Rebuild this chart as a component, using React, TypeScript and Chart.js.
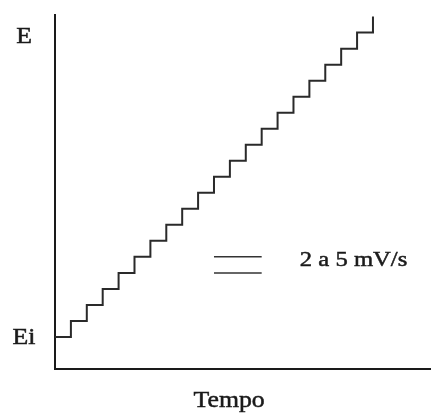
import React, { useEffect, useRef } from "react";
import { Chart, registerables } from "chart.js";

Chart.register(...registerables);

// Staircase potential (one step per time unit)
const stepTimes = [0, 1, 2, 3, 4, 5, 6, 7, 8, 9, 10, 11, 12, 13, 14, 15, 16, 17, 18, 19, 20];
const stepLevels = [0, 1, 2, 3, 4, 5, 6, 7, 8, 9, 10, 11, 12, 13, 14, 15, 16, 17, 18, 19, 20];

// Scan-rate symbol (two parallel strokes) and its label
const rateLineTimes = [10, 13];
const rateLineUpper = [5, 5];
const rateLineLower = [4, 4];
const rateLabel = "2 a 5 mV/s";
const rateLabelTime = 15.4;
const rateLabelLevel = 4.8;

// Axis labels
const yTickValues = [0, 18.8];
const yTickLabels = ["Ei", "E"];
const xTitle = "Tempo";
const xTitleTime = 10.95;

const X_MIN = 0;
const X_MAX = 23.65;
const Y_MIN = -2;
const Y_MAX = 20.1;

const INK = "#1a1a1a";
const FONT = '23px "Liberation Serif", "Times New Roman", serif';
const STRETCH = 1.12;

function drawStretched(ctx: CanvasRenderingContext2D, text: string, x: number, y: number, align: CanvasTextAlign) {
  ctx.save();
  ctx.translate(x, y);
  ctx.scale(STRETCH, 1);
  ctx.textAlign = align;
  ctx.textBaseline = "middle";
  ctx.fillText(text, 0, 0);
  ctx.lineWidth = 0.5;
  ctx.strokeText(text, 0, 0);
  ctx.restore();
}

const labelPlugin = {
  id: "labels",
  afterDraw(chart: any) {
    const { ctx, chartArea, scales } = chart;
    const xs = scales.x;
    const ys = scales.y;
    ctx.save();
    ctx.font = FONT;
    ctx.fillStyle = INK;
    ctx.strokeStyle = INK;
    yTickValues.forEach((v, i) => {
      drawStretched(ctx, yTickLabels[i], chartArea.left - 31, ys.getPixelForValue(v) + 1, "center");
    });
    drawStretched(ctx, xTitle, xs.getPixelForValue(xTitleTime), chartArea.bottom + 32, "center");
    ctx.font = '22px "Liberation Serif", "Times New Roman", serif';
    drawStretched(ctx, rateLabel, xs.getPixelForValue(rateLabelTime), ys.getPixelForValue(rateLabelLevel), "left");
    ctx.restore();
  },
};

export default function App() {
  const ref = useRef<HTMLCanvasElement | null>(null);
  useEffect(() => {
    if (!ref.current) return;
    const chart = new Chart(ref.current, {
      type: "line",
      data: {
        datasets: [
          {
            data: stepTimes.map((t, i) => ({ x: t, y: stepLevels[i] })),
            stepped: "before",
            borderColor: "#2a2a2a",
            borderWidth: 2,
            pointRadius: 0,
            fill: false,
          },
          {
            data: rateLineTimes.map((t, i) => ({ x: t, y: rateLineUpper[i] })),
            borderColor: "#333333",
            borderWidth: 1.5,
            pointRadius: 0,
          },
          {
            data: rateLineTimes.map((t, i) => ({ x: t, y: rateLineLower[i] })),
            borderColor: "#333333",
            borderWidth: 1.5,
            pointRadius: 0,
          },
        ],
      },
      options: {
        animation: false,
        responsive: false,
        maintainAspectRatio: false,
        layout: { padding: { left: 55, right: 0, top: 15, bottom: 47 } },
        plugins: { legend: { display: false }, tooltip: { enabled: false } },
        scales: {
          x: {
            type: "linear",
            min: X_MIN,
            max: X_MAX,
            grid: { display: false, drawTicks: false },
            ticks: { display: false },
            border: { display: true, color: INK, width: 2 },
          },
          y: {
            type: "linear",
            min: Y_MIN,
            max: Y_MAX,
            grid: { display: false, drawTicks: false },
            ticks: { display: false },
            border: { display: true, color: INK, width: 2 },
          },
        },
      },
      plugins: [labelPlugin],
    });
    return () => chart.destroy();
  }, []);
  return (
    <div style={{ position: "absolute", left: 0, top: 0, width: 431, height: 416, background: "#fff" }}>
      <canvas ref={ref} width={431} height={416} style={{ width: 431, height: 416, display: "block" }} />
    </div>
  );
}
